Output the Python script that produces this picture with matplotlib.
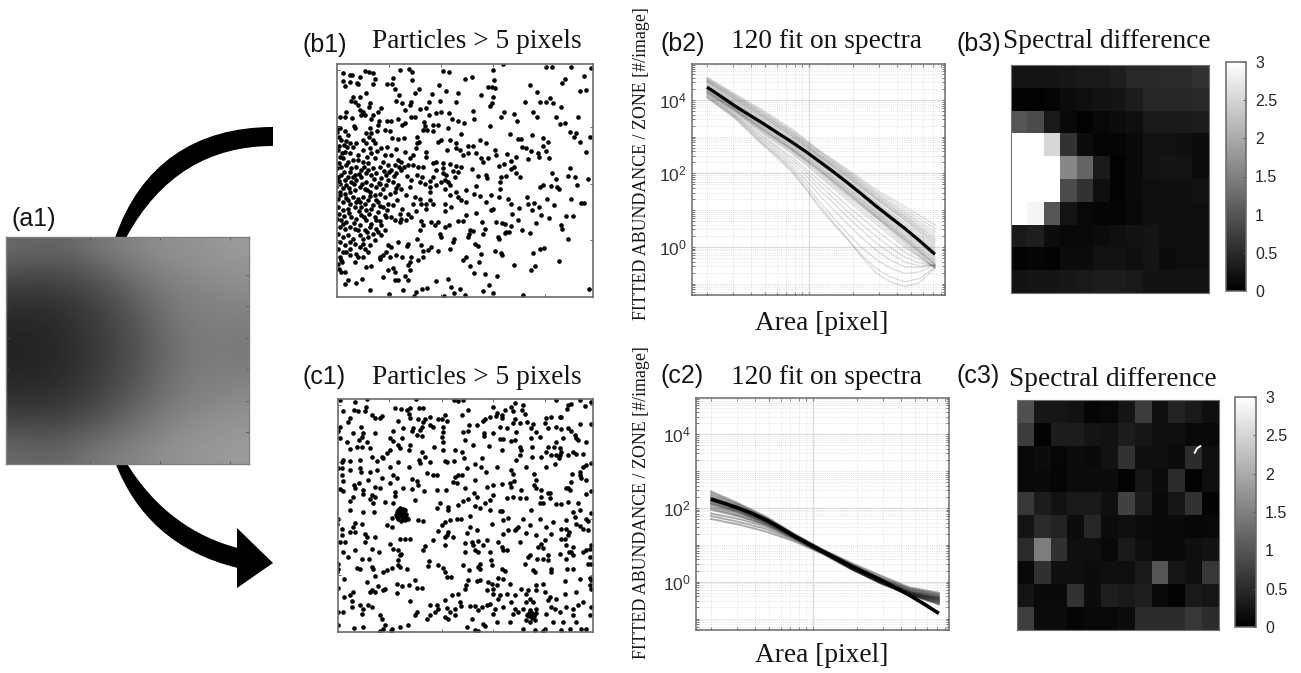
import numpy as np
import matplotlib
matplotlib.use("Agg")
import matplotlib.pyplot as plt
from matplotlib.path import Path
from matplotlib.patches import PathPatch, Polygon
from matplotlib.ticker import LogLocator, NullFormatter

W, H = 1301, 673
SERIF = "Liberation Serif"
SANS = "Liberation Sans"
plt.rcParams["font.family"] = SANS
plt.rcParams["mathtext.fontset"] = "custom"
plt.rcParams["mathtext.rm"] = SANS
plt.rcParams["mathtext.default"] = "regular"

# (a1) grey levels of the background field
a1_field = [
    [105, 100, 105, 120, 130, 140, 145, 150, 155],
    [75, 72, 78, 90, 110, 125, 135, 140, 145],
    [50, 50, 58, 70, 88, 110, 125, 130, 135],
    [38, 40, 48, 62, 78, 100, 120, 125, 125],
    [33, 37, 46, 60, 75, 95, 115, 122, 120],
    [38, 40, 48, 62, 78, 100, 118, 125, 128],
    [50, 50, 58, 72, 90, 108, 125, 132, 138],
    [75, 72, 80, 92, 110, 125, 138, 145, 150],
    [105, 100, 108, 122, 130, 140, 148, 152, 155],
]

# (b1) particle positions
b1_points = [
    (40,40),(62,45),(68,45),(40,63),(45,78),(62,65),(82,68),(90,50),(105,32),(118,37),(130,40),(135,57),(130,72),(85,72),
    (172,73),(186,72),(190,55),(212,30),(238,28),(248,35),(248,60),(195,88),(207,105),(268,88),(255,100),(327,75),(350,92),(341,32),(358,35),(405,58),(427,50),(491,29),(493,60),(475,80),(487,80),(497,85),(453,104),(489,112),(386,100),(307,102),
    (520,12),(650,22),(668,20),(725,20),(783,24),(763,48),(705,57),(698,70),(600,76),(621,95),(751,94),(769,90),(660,115),(630,127),(648,127),(670,130),(586,126),(694,140),(610,155),(622,170),(678,170),(745,170),(690,192),(705,190),(720,215),(740,218),(733,230),(752,245),(782,232),(768,276),
    (488,130),(482,138),(430,152),(434,176),(523,156),(513,172),(554,162),(562,184),(480,198),(541,221),(606,226),(565,236),(575,236),(640,233),(655,245),(640,258),(650,272),(578,262),(588,265),(605,272),(625,280),(628,292),(658,295),(595,297),(533,282),(497,270),(500,285),(560,292),(545,302),(522,312),(508,318),(552,322),(545,328),(560,340),(570,352),(530,348),(515,352),(512,365),(510,385),
    (668,338),(720,325),(714,348),(735,352),(680,358),(775,356),(743,373),(640,375),(632,380),(664,377),(683,380),(688,386),(652,415),(724,415),(755,428),(762,428),(674,435),(593,410),(596,430),(614,428),(628,440),(608,450),(568,444),(633,465),(658,474),(710,466),(729,466),(693,495),(698,505),(716,535),(642,563),(630,567),(611,577),(688,601),(616,617),(604,629),(553,615),(577,510),(600,518),(618,487),(566,478),(548,462),(536,415),(543,430),(508,410),(484,404),
    (70,110),(65,122),(75,125),(92,110),(108,100),(122,128),(118,140),(85,135),(90,150),(100,155),(105,165),(95,165),(50,155),(45,170),(30,172),(68,175),(155,143),(145,155),(130,165),(125,178),(148,182),(145,195),(172,182),(185,183),(205,177),(225,190),(218,195),(245,170),(255,170),(200,123),(218,128),(243,125),(240,135),(225,150),(272,147),(297,125),(290,145),(298,165),(320,160),(335,157),(357,160),(368,178),(384,184),(402,188),(330,122),(378,125),(283,185),(285,197),(310,195),(325,195),(355,203),(280,210),(293,210),(310,212),(395,223),
    (25,203),(30,205),(22,215),(45,212),(72,198),(75,205),(110,220),(125,220),(118,232),(130,240),(135,250),(142,212),(165,210),(180,212),(188,235),(205,237),(222,235),(262,232),(268,245),(262,250),(258,265),(250,285),(290,275),(325,245),(335,240),(362,240),(378,250),(352,270),(380,265),(390,270),(400,285),(415,258),(430,257),(452,240),(470,250),(415,280),(440,280),(455,295),(460,307),(475,295),(320,305),(340,310),(360,313),(380,318),(395,322),(290,292),(428,327),(445,348),(470,345),(473,355),
    (35,240),(50,242),(60,250),(42,255),(25,270),(45,275),(60,280),(85,285),(100,270),(122,265),(125,280),(135,295),(155,265),(165,285),(185,285),(205,300),(215,305),(195,315),(175,315),(160,305),(150,320),(130,325),(115,310),(100,305),(85,300),(70,300),(55,305),(40,295),(30,290),(22,325),(35,320),(50,315),(65,325),(80,320),(95,330),(110,340),(125,345),(140,340),(155,355),(170,345),(185,330),(200,340),(215,330),(235,315),(250,315),(265,320),(280,320),(310,310),(320,330),(340,340),(350,345),(345,360),(355,365),(375,350),(385,335),
    (25,350),(35,345),(45,360),(30,370),(20,380),(50,375),(65,365),(80,360),(75,345),(60,335),(95,350),(110,365),(125,375),(140,380),(160,385),(175,360),(190,365),(205,375),(215,385),(240,380),(245,360),(270,365),(285,370),(300,380),(320,375),(335,365),(345,385),(360,375),(30,395),(45,400),(60,395),(75,390),(90,380),(105,385),(120,395),(135,405),(150,400),(165,410),(180,400),(195,395),(230,405),(255,410),(270,415),(300,395),(300,420),(290,430),(310,430),(345,432),(360,405),(380,395),(395,420),(410,425),(410,390),(440,378),
    (25,415),(40,425),(55,420),(70,410),(85,415),(100,410),(115,420),(130,435),(145,425),(160,440),(175,430),(190,435),(25,440),(40,450),(55,445),(75,440),(95,440),(110,450),(125,445),(145,455),(165,465),(185,470),(210,460),(235,460),(260,452),(290,445),(345,452),(365,440),(385,410),(432,400),(450,408),(470,425),(485,450),(490,445),
    (22,477),(35,480),(50,485),(65,470),(80,475),(95,465),(110,480),(125,490),(140,480),(155,495),(170,470),(215,475),(210,485),(230,478),(275,482),(270,510),(280,495),(305,485),(315,495),(325,485),(345,500),(358,495),(385,483),(400,482),(410,463),(438,458),(458,485),(500,485),(518,488),(525,490),(545,498),(530,515),(537,515),(525,518),(505,530),(508,537),(465,507),(460,522),(430,512),(420,510),(418,522),(415,530),
    (30,500),(45,505),(60,500),(75,505),(90,495),(105,510),(120,500),(130,520),(145,515),(155,525),(25,520),(40,530),(55,525),(70,535),(90,525),(100,535),(115,530),(135,540),(30,545),(45,555),(60,565),(75,550),(90,560),(105,565),(115,575),(25,565),(50,575),(80,580),(85,590),(75,605),(30,590),(35,600),(25,610),(175,555),(185,560),(170,575),(160,585),(150,595),(205,545),(235,550),(232,558),(218,590),(200,585),(180,590),(245,590),(240,605),(235,615),(265,600),(280,590),(280,572),(295,568),(305,560),(325,572),(362,567),(372,537),(370,545),(330,522),(335,530),(262,537),(275,555),
    (400,600),(410,590),(420,618),(433,637),(455,580),(437,550),(445,558),(448,605),(465,640),(495,573),(515,578),(518,585),(502,646),(477,675),(460,693),(490,697),(580,703),(777,687),
    (35,635),(45,635),(55,658),(45,670),(80,668),(97,655),(108,620),(125,617),(150,590),(175,630),(190,622),(195,635),(240,630),(225,647),(195,660),(205,660),(235,660),(160,650),(320,662),(355,655),(365,680),(372,697),(390,685),(407,703),(278,685),(292,682),(260,695),(253,708),(220,690),(178,700),(122,690),(342,707),
    (28,310),(42,335),(55,352),(70,352),(88,342),(102,322),(116,330),(132,358),(147,368),(162,332),(177,337),(192,347),(207,322),(222,322),(232,347),(28,362),(40,384),(58,384),(72,372),(98,372),(112,388),(150,372),(168,375),(198,382),(262,345),(278,350),(300,362),(310,352),(340,325),(370,332),
    (30,405),(48,412),(62,432),(78,425),(92,425),(106,430),(120,408),(138,420),(152,438),(172,448),(202,420),(218,445),(250,430),(275,432),(28,462),(44,468),(58,458),(88,452),(104,470),(118,462),(135,470),(150,482),(195,480),(245,470),(28,258),(36,280),(52,262),(70,262),(78,248),(108,250),(112,290),(142,272),(172,262),(200,268),(225,275),(240,295),(28,232),(55,225),(100,240),(120,205),
    (40,490),(72,488),(85,510),(112,515),(140,505),(165,510),(60,545),(100,550),(122,555),(40,575),(62,585),(100,590),(28,625),(38,605),
]

# (c1) particle positions
c1_points = [
    (30,15),(75,22),(110,12),(257,12),(372,15),(385,18),(400,14),(678,14),(750,14),(785,20),(490,35),(555,24),(545,35),(580,30),(525,45),(715,30),(725,28),(765,32),(712,42),(38,48),(72,45),(85,48),(105,48),(125,60),(108,35),(195,40),(213,42),(232,45),(237,58),(268,40),(280,40),(415,45),(500,55),(515,60),(550,48),(578,45),
    (155,62),(150,70),(135,70),(60,70),(55,82),(240,70),(265,73),(285,72),(300,65),(280,80),(325,72),(345,60),(335,72),(352,78),(395,60),(205,77),(465,72),(460,78),(480,65),(498,62),(515,68),(555,72),(585,58),(570,85),(592,80),(610,88),(650,70),(665,65),(690,67),(695,65),(750,88),(785,87),(645,85),(655,100),(678,97),(695,102),(715,100),(725,108),(735,120),(620,110),(632,125),(605,128),(605,98),(550,85),(530,100),(510,95),(440,90),(418,90),(415,108),(400,112),(462,115),(490,115),(310,97),(340,97),(340,110),(250,100),(245,108),(275,95),(270,105),(30,95),(25,108),(20,108),(92,97),(98,115),(68,113),(135,115),(188,107),
    (95,125),(88,135),(80,155),(95,155),(110,140),(180,130),(190,138),(215,128),(205,150),(240,150),(260,120),(275,123),(337,125),(340,140),(312,155),(405,135),(462,122),(510,132),(518,132),(545,137),(555,136),(477,152),(516,165),(570,155),(573,165),(607,155),(740,130),(745,135),(680,140),(672,155),(690,158),(695,170),(655,155),(650,170),(665,180),(680,180),(690,180),(715,180),(730,172),(740,178),(760,178),(60,163),(125,185),(155,185),(170,175),(180,165),(160,190),(238,165),(210,160),(275,170),(285,187),(340,165),(375,165),(395,172),(403,190),
    (40,195),(35,200),(60,197),(90,195),(90,220),(93,230),(140,198),(25,218),(35,218),(35,240),(142,225),(180,215),(205,200),(238,217),(267,195),(270,205),(345,198),(350,200),(372,198),(410,218),(435,208),(455,188),(452,215),(467,232),(572,180),(560,195),(545,225),(550,238),(607,185),(635,187),(677,208),(688,190),(768,210),(783,205),(760,215),(752,230),(750,240),(728,237),(612,237),(620,255),
    (40,258),(30,283),(40,288),(72,270),(75,278),(88,265),(100,285),(115,255),(135,275),(150,278),(180,265),(188,240),(200,250),(245,253),(262,258),(265,270),(245,283),(283,288),(320,240),(310,240),(292,234),(195,290),(218,280),(320,285),(347,285),(370,260),(380,265),(385,240),(395,240),(375,245),(435,255),(405,280),(432,295),(472,275),(490,270),(515,268),(545,275),(540,265),(553,258),(575,285),(635,285),(660,295),(715,280),(720,285),(710,280),(725,260),(755,250),(770,255),(785,288),(770,297),(613,270),(618,280),
    (70,305),(60,318),(100,298),(125,300),(135,305),(120,312),(130,325),(165,320),(195,303),(190,325),(255,315),(330,325),(320,338),(355,335),(355,345),(400,318),(415,313),(385,330),(440,305),(435,332),(450,340),(465,325),(480,315),(490,300),(510,348),(515,348),(530,310),(550,305),(572,310),(590,310),(605,345),(635,305),(640,325),(630,325),(655,295),(660,310),(680,328),(695,328),(715,320),(745,325),(750,345),(730,352),(785,355),(60,345),(100,350),(133,352),
    (25,370),(20,385),(75,382),(95,385),(70,395),(185,367),(170,390),(185,395),(265,373),(280,378),(335,390),(345,380),(360,375),(380,372),(392,372),(420,362),(412,412),(440,405),(487,385),(520,375),(535,367),(580,370),(565,395),(555,405),(560,400),(535,405),(520,415),(590,412),(630,372),(670,380),(710,375),(770,370),(775,378),(750,392),(735,365),(740,385),(760,400),(775,405),(695,400),(710,400),(718,410),(665,415),(620,418),(35,402),(60,410),(75,410),(35,418),(105,415),(110,425),(135,425),(325,408),(355,410),(350,420),(370,425),
    (30,440),(45,440),(75,465),(105,440),(125,462),(147,470),(180,447),(210,430),(225,430),(240,430),(308,435),(285,452),(278,465),(345,425),(345,450),(405,442),(425,440),(430,450),(445,437),(470,433),(505,440),(515,455),(530,463),(518,465),(635,445),(625,455),(640,458),(645,433),(695,430),(705,430),(715,420),(710,450),(730,455),(725,470),(760,470),(770,465),(780,460),(785,450),(405,470),(435,465),(445,470),(190,462),(205,465),(213,475),(210,480),
    (55,485),(95,490),(118,492),(125,515),(130,522),(80,518),(25,505),(25,520),(90,520),(20,530),(135,542),(160,530),(170,525),(185,517),(205,510),(210,515),(205,495),(297,497),(295,513),(325,510),(338,518),(345,530),(350,545),(362,545),(400,508),(417,525),(445,515),(450,505),(450,522),(482,493),(487,510),(515,522),(525,528),(585,505),(595,485),(600,480),(622,490),(640,490),(655,480),(655,495),(610,525),(615,530),(665,520),(665,530),(690,475),(710,490),(718,470),(730,480),(712,520),(730,520),(780,485),(775,505),(785,505),
    (43,552),(25,578),(42,605),(60,600),(70,590),(125,585),(135,590),(145,572),(160,585),(165,582),(200,565),(215,572),(238,568),(255,555),(262,578),(275,578),(200,592),(408,570),(415,553),(405,580),(440,558),(450,555),(475,560),(485,565),(505,548),(520,550),(500,570),(490,580),(470,585),(510,600),(385,597),(365,600),(345,615),(490,595),(540,565),(575,580),(595,585),(620,570),(640,565),(620,585),(645,590),(705,558),(750,552),(780,548),(785,555),(780,570),(785,580),(740,590),(705,595),(680,610),(660,605),(655,615),(600,610),(590,595),(555,600),(530,595),(505,610),
    (65,618),(65,635),(90,630),(100,640),(115,630),(125,635),(95,655),(25,650),(40,650),(150,658),(155,672),(25,690),(72,697),(100,695),(165,690),(160,700),(150,708),(185,700),(182,708),(210,695),(235,690),(240,618),(262,650),(255,658),(300,628),(320,628),(325,640),(315,650),(290,672),(300,660),(350,638),(345,665),(360,650),(375,640),(375,660),(355,670),(390,620),(392,632),(420,632),(435,632),(425,670),(455,635),(470,630),(480,625),(495,640),(445,645),(460,685),(465,692),(435,705),(445,708),(410,695),(490,655),(520,635),(545,620),(555,640),(550,655),(565,650),(580,640),(590,620),(610,620),(620,640),(595,655),(600,650),(605,660),(610,655),(590,675),(600,680),(615,675),(580,700),(615,705),(645,700),(640,708),(675,640),(665,635),(650,655),(690,650),(710,635),(730,640),(745,630),(730,660),(740,680),(780,660),(700,680),(695,705),(720,700),(755,700),(770,702),(785,635),
    (200,350),(205,345),(210,340),(215,348),(220,355),(225,345),(210,360),(215,365),(205,370),(220,372),(232,368),(198,360),(212,352),(222,362),(235,372),(605,650),(598,662),(612,662),
    (205,355),(218,342),(228,356),(202,365),(214,376),(226,374),(600,645),(608,668),(592,660),(618,652),
    (120,590),(240,40),(300,90),(560,110),(700,130),(770,140),(30,130),(50,140),(120,160),(220,100),(300,200),(430,150),(500,215),(590,215),(650,215),(120,230),(155,250),(60,225),(480,345),(600,390),(650,395),(420,395),(460,450),(480,470),(570,440),(40,470),(110,560),(230,520),(500,680),(540,680),(670,680),(760,620),
]

# fit curves: log10 of abundance at these areas
area = [2.0, 3.1, 4.84, 7.57, 11.8, 18.5, 28.9, 45.2, 72.5]
area_fine = [2.0, 2.49, 3.1, 3.87, 4.84, 6.05, 7.57, 9.45, 11.8, 14.8, 18.5, 23.1, 28.9, 36.1, 45.2, 57.2, 72.5]
b2_mean = [4.35, 4.10, 3.84, 3.60, 3.36, 3.11, 2.86, 2.60, 2.32, 2.03, 1.73, 1.42, 1.10, 0.80, 0.50, 0.16, -0.20]
b2_fits = [
    [4.62, 4.17, 3.72, 3.22, 2.62, 2.10, 1.55, 1.10, 0.60],
    [4.60, 4.14, 3.68, 3.18, 2.60, 2.06, 1.50, 1.02, 0.50],
    [4.58, 4.12, 3.65, 3.15, 2.58, 2.03, 1.45, 0.95, 0.40],
    [4.56, 4.10, 3.62, 3.12, 2.55, 2.00, 1.42, 0.90, 0.32],
    [4.55, 4.08, 3.60, 3.10, 2.52, 1.97, 1.38, 0.85, 0.25],
    [4.53, 4.06, 3.58, 3.08, 2.50, 1.95, 1.35, 0.82, 0.20],
    [4.52, 4.04, 3.55, 3.05, 2.48, 1.92, 1.32, 0.78, 0.15],
    [4.51, 4.02, 3.53, 3.03, 2.46, 1.90, 1.30, 0.75, 0.10],
    [4.50, 4.00, 3.52, 3.02, 2.45, 1.88, 1.28, 0.72, 0.05],
    [4.47, 3.97, 3.48, 2.98, 2.42, 1.84, 1.22, 0.65, 0.00],
    [4.45, 3.95, 3.45, 2.95, 2.40, 1.81, 1.19, 0.60, -0.05],
    [4.42, 3.92, 3.42, 2.92, 2.37, 1.78, 1.16, 0.55, -0.10],
    [4.40, 3.90, 3.40, 2.90, 2.35, 1.76, 1.12, 0.50, -0.15],
    [4.36, 3.86, 3.36, 2.86, 2.30, 1.70, 1.07, 0.45, -0.22],
    [4.33, 3.83, 3.33, 2.83, 2.27, 1.66, 1.03, 0.41, -0.26],
    [4.30, 3.80, 3.30, 2.80, 2.24, 1.62, 1.00, 0.38, -0.30],
    [4.29, 3.78, 3.28, 2.77, 2.20, 1.58, 0.96, 0.33, -0.35],
    [4.28, 3.77, 3.26, 2.75, 2.18, 1.56, 0.94, 0.30, -0.38],
    [4.26, 3.76, 3.24, 2.72, 2.15, 1.53, 0.91, 0.27, -0.42],
    [4.25, 3.75, 3.22, 2.70, 2.12, 1.50, 0.88, 0.24, -0.45],
    [4.24, 3.74, 3.20, 2.68, 2.10, 1.47, 0.85, 0.21, -0.47],
    [4.23, 3.73, 3.19, 2.67, 2.09, 1.46, 0.83, 0.20, -0.49],
    [4.22, 3.72, 3.18, 2.66, 2.08, 1.45, 0.82, 0.18, -0.50],
    [4.21, 3.71, 3.16, 2.64, 2.05, 1.41, 0.80, 0.14, -0.54],
    [4.20, 3.70, 3.14, 2.63, 2.02, 1.38, 0.78, 0.10, -0.58],
    [4.19, 3.68, 3.11, 2.59, 1.97, 1.32, 0.70, 0.04, -0.57],
    [4.18, 3.66, 3.08, 2.55, 1.92, 1.25, 0.62, -0.02, -0.55],
    [4.16, 3.62, 3.02, 2.45, 1.80, 1.10, 0.45, -0.15, -0.55],
    [4.14, 3.87, 3.60, 3.29, 2.98, 2.69, 2.38, 2.05, 1.68, 1.32, 0.95, 0.60, 0.28, -0.02, -0.28, -0.44, -0.52],
    [4.12, 3.85, 3.58, 3.25, 2.92, 2.62, 2.30, 1.95, 1.55, 1.18, 0.80, 0.44, 0.10, -0.18, -0.42, -0.52, -0.50],
    [4.10, 3.83, 3.56, 3.23, 2.88, 2.56, 2.22, 1.83, 1.40, 1.00, 0.60, 0.24, -0.10, -0.36, -0.55, -0.56, -0.48],
    [4.08, 3.81, 3.54, 3.19, 2.82, 2.50, 2.15, 1.72, 1.22, 0.78, 0.35, -0.03, -0.35, -0.58, -0.72, -0.68, -0.50],
    [4.06, 3.78, 3.50, 3.13, 2.76, 2.42, 2.05, 1.58, 1.05, 0.60, 0.18, -0.24, -0.60, -0.82, -0.95, -0.86, -0.55],
    [4.08, 3.80, 3.52, 3.16, 2.80, 2.47, 2.10, 1.62, 1.12, 0.65, 0.20, -0.30, -0.72, -0.96, -1.08, -0.97, -0.58],
]
c2_mean = [2.24, 2.12, 1.99, 1.84, 1.66, 1.45, 1.22, 1.01, 0.81, 0.61, 0.41, 0.23, 0.05, -0.15, -0.36, -0.60, -0.86]
c2_fits = [
    [2.45, 2.12, 1.75, 1.28, 0.86, 0.50, 0.17, -0.15, -0.30],
    [2.40, 2.09, 1.72, 1.26, 0.85, 0.47, 0.13, -0.18, -0.33],
    [2.35, 2.06, 1.70, 1.25, 0.84, 0.45, 0.10, -0.20, -0.36],
    [2.30, 2.03, 1.68, 1.24, 0.83, 0.44, 0.08, -0.22, -0.38],
    [2.27, 2.01, 1.67, 1.23, 0.82, 0.43, 0.06, -0.25, -0.40],
    [2.25, 2.00, 1.66, 1.22, 0.81, 0.42, 0.05, -0.26, -0.42],
    [2.22, 1.98, 1.65, 1.22, 0.81, 0.41, 0.04, -0.27, -0.44],
    [2.20, 1.96, 1.64, 1.21, 0.80, 0.40, 0.03, -0.28, -0.46],
    [2.18, 1.94, 1.62, 1.20, 0.80, 0.39, 0.02, -0.29, -0.48],
    [2.15, 1.92, 1.61, 1.20, 0.79, 0.38, 0.01, -0.30, -0.50],
    [2.12, 1.90, 1.60, 1.19, 0.79, 0.37, 0.00, -0.31, -0.52],
    [2.10, 1.88, 1.58, 1.19, 0.78, 0.36, -0.01, -0.32, -0.55],
    [2.05, 1.85, 1.56, 1.18, 0.78, 0.36, -0.02, -0.33, -0.58],
    [2.00, 1.80, 1.54, 1.17, 0.77, 0.35, -0.03, -0.34, -0.60],
    [1.95, 1.77, 1.52, 1.16, 0.77, 0.34, -0.04, -0.35, -0.62],
    [1.85, 1.70, 1.48, 1.14, 0.76, 0.33, -0.05, -0.36, -0.55],
    [1.78, 1.62, 1.42, 1.12, 0.75, 0.33, -0.03, -0.34, -0.50],
    [1.70, 1.55, 1.35, 1.08, 0.74, 0.32, -0.02, -0.33, -0.45],
]

# (b3) and (c3) spectral differences, as grey levels 0-255
b3_levels = [
    [20, 20, 20, 22, 25, 25, 30, 40, 40, 42, 42, 50],
    [2, 2, 5, 12, 15, 18, 20, 28, 38, 38, 38, 40],
    [85, 75, 25, 8, 2, 8, 12, 15, 25, 25, 25, 28],
    [255, 255, 215, 50, 12, 5, 5, 10, 18, 18, 15, 12],
    [255, 255, 255, 135, 100, 25, 2, 10, 18, 20, 20, 12],
    [255, 255, 255, 75, 50, 15, 3, 10, 15, 15, 15, 18],
    [255, 245, 85, 20, 8, 5, 5, 8, 15, 15, 15, 15],
    [25, 30, 12, 8, 8, 12, 15, 18, 20, 15, 15, 15],
    [3, 5, 3, 12, 12, 18, 18, 15, 20, 12, 15, 15],
    [18, 20, 20, 22, 25, 28, 28, 25, 18, 18, 18, 18],
]
c3_levels = [
    [80, 22, 22, 18, 5, 8, 20, 60, 15, 35, 25, 15],
    [60, 3, 28, 28, 20, 18, 28, 22, 15, 15, 8, 8],
    [8, 12, 6, 12, 10, 18, 50, 15, 15, 12, 45, 15],
    [8, 10, 5, 12, 12, 12, 2, 22, 12, 42, 2, 15],
    [55, 28, 18, 25, 25, 15, 65, 28, 10, 22, 50, 3],
    [20, 42, 35, 12, 38, 12, 15, 12, 10, 10, 6, 8],
    [42, 125, 48, 15, 15, 8, 25, 15, 8, 8, 15, 18],
    [8, 48, 15, 15, 12, 15, 15, 25, 85, 22, 15, 55],
    [20, 10, 10, 50, 12, 30, 25, 30, 10, 2, 25, 22],
    [62, 12, 12, 5, 8, 8, 12, 45, 45, 45, 55, 45],
]
c3_glitch_col = [10.05, 10.2, 10.4]
c3_glitch_row = [1.80, 1.60, 1.50]
cbar_ticks = [0, 0.5, 1, 1.5, 2, 2.5, 3]
cbar_labels = ["0", "0.5", "1", "1.5", "2", "2.5", "3"]


def px_axes(x0, y0, x1, y1):
    return fig.add_axes([x0 / W, 1 - y1 / H, (x1 - x0) / W, (y1 - y0) / H])


def px_text(x, y, s, size, family, **kw):
    kw.setdefault("va", "center")
    fig.text(x / W, 1 - y / H, s, fontsize=size, family=family, color="0.08", **kw)


def frame(ax, color="0.42", lw=1.2):
    for sp in ax.spines.values():
        sp.set_color(color)
        sp.set_linewidth(lw)


def scatter_panel(box, points):
    ax = px_axes(*box)
    pts = np.array(points)
    ax.scatter(pts[:, 0], pts[:, 1], s=11, c="black", linewidths=0, clip_on=True)
    ax.set_xlim(22, 790)
    ax.set_ylim(710, 12)
    ax.set_xticks([178, 335, 490, 645])
    ax.set_yticks([30, 200, 370, 540])
    ax.tick_params(direction="in", length=2, width=0.7, color="0.4", top=True, right=True,
                   labelbottom=False, labelleft=False)
    frame(ax)


def fit_panel(box, fits, mean, fit_color, fit_alpha, fit_lw, mean_lw):
    ax = px_axes(*box)
    for f in fits:
        xs = area_fine if len(f) == len(area_fine) else area
        ax.plot(xs, 10.0 ** np.array(f), color=fit_color, lw=fit_lw, alpha=fit_alpha)
    ax.plot(area_fine, 10.0 ** np.array(mean), color="black", lw=mean_lw, solid_capstyle="butt")
    ax.set_xscale("log")
    ax.set_yscale("log")
    ax.set_xlim(1.58, 85)
    ax.set_ylim(10 ** -1.31, 10 ** 4.98)
    ax.set_xticks([10])
    ax.set_yticks([1, 1e2, 1e4])
    ax.set_yticklabels([r"$10^{0}$", r"$10^{2}$", r"$10^{4}$"], fontsize=12.5, color="0.2")
    ax.xaxis.set_minor_locator(LogLocator(base=10, subs=np.arange(1, 10), numticks=12))
    ax.yaxis.set_minor_locator(LogLocator(base=10, subs=np.arange(1, 10), numticks=12))
    ax.xaxis.set_minor_formatter(NullFormatter())
    ax.yaxis.set_minor_formatter(NullFormatter())
    ax.set_xticklabels([])
    ax.grid(True, which="major", color="0.86", lw=0.9, zorder=0)
    ax.grid(True, which="minor", color="0.82", lw=0.5, ls=":", zorder=0)
    ax.set_axisbelow(True)
    ax.tick_params(which="both", direction="in", length=2, width=0.6, color="0.4", top=True, right=True)
    ax.tick_params(axis="y", which="major", pad=4)
    frame(ax, lw=1.1)


def heat_panel(box, levels, cbar_box):
    ax = px_axes(*box)
    im = ax.imshow(np.array(levels) * 3 / 255, cmap="gray", vmin=0, vmax=3,
                   interpolation="nearest", aspect="auto")
    ax.set_xticks([])
    ax.set_yticks([])
    frame(ax, color="0.45", lw=0.8)
    cax = px_axes(*cbar_box)
    cb = fig.colorbar(im, cax=cax)
    cb.set_ticks(cbar_ticks)
    cb.set_ticklabels(cbar_labels)
    cax.tick_params(direction="in", length=2.5, width=0.7, color="0.35", labelsize=11.5,
                    labelcolor="0.15", pad=6.5)
    cb.outline.set_edgecolor("0.4")
    cb.outline.set_linewidth(1.1)
    return ax


fig = plt.figure(figsize=(W / 100, H / 100), dpi=100, facecolor="white")

# arrows, on a full-figure layer in pixel units
over = fig.add_axes([0, 0, 1, 1], zorder=-1)
over.set_xlim(0, W)
over.set_ylim(H, 0)
over.axis("off")
top_arrow = Path(
    [(115, 238), (140, 165), (195, 127), (273, 127), (273, 146), (210, 146), (160, 175), (126, 238), (115, 238)],
    [Path.MOVETO, Path.CURVE4, Path.CURVE4, Path.CURVE4, Path.LINETO, Path.CURVE4, Path.CURVE4, Path.CURVE4, Path.CLOSEPOLY],
)
over.add_patch(PathPatch(top_arrow, fc="black", ec="none"))
bottom_arrow = Path(
    [(115, 462), (135, 515), (175, 553), (238, 568), (238, 548), (195, 537), (155, 510), (126, 462), (115, 462)],
    [Path.MOVETO, Path.CURVE4, Path.CURVE4, Path.CURVE4, Path.LINETO, Path.CURVE4, Path.CURVE4, Path.CURVE4, Path.CLOSEPOLY],
)
over.add_patch(PathPatch(bottom_arrow, fc="black", ec="none"))
over.add_patch(Polygon([(237, 528), (273, 563), (237, 588)], closed=True, fc="black", ec="none"))

# (a1)
ax_a = px_axes(6, 237, 249, 464)
ax_a.imshow(a1_field, cmap="gray", vmin=0, vmax=255, interpolation="bicubic", aspect="auto")
ax_a.set_xticks([2.6, 5.2, 7.8])
ax_a.set_yticks([1, 2.25, 3.5, 4.75, 6, 7.25])
ax_a.tick_params(direction="in", length=2, width=0.6, color="0.3", top=True, right=True,
                 labelbottom=False, labelleft=False)
frame(ax_a, color="0.5", lw=1.0)

scatter_panel((337, 64, 593, 297), b1_points)
scatter_panel((337.5, 399, 593, 632), c1_points)

fit_panel((692, 64, 945, 295), b2_fits, b2_mean, "0.3", 0.2, 0.9, 2.3)
fit_panel((696, 398, 949, 630), c2_fits, c2_mean, "0.05", 0.35, 1.3, 2.6)

heat_panel((1011, 65, 1209, 293), b3_levels, (1226, 62, 1246, 291))
ax_c3 = heat_panel((1017, 400, 1219, 630), c3_levels, (1235, 397, 1256, 627))
ax_c3.plot(c3_glitch_col, c3_glitch_row, color="white", lw=1.4, solid_capstyle="round")
ax_c3.set_xlim(-0.5, 11.5)
ax_c3.set_ylim(9.5, -0.5)

# panel letters
for x, y, s in [(12, 219, "(a1)"), (303, 45, "(b1)"), (303, 377, "(c1)"), (660, 44, "(b2)"),
                (660, 376, "(c2)"), (957, 44, "(b3)"), (957, 376, "(c3)")]:
    px_text(x, y, s, 18, SANS)

# titles
for x, y, s in [(372, 42, "Particles > 5 pixels"), (372, 377, "Particles > 5 pixels"),
                (731, 42, "120 fit on spectra"), (731, 377, "120 fit on spectra"),
                (1003, 42, "Spectral difference"), (1009, 379, "Spectral difference")]:
    px_text(x, y, s, 19.7, SERIF)

for y in (323, 655):
    px_text(822, y, "Area [pixel]", 19.7, SERIF, ha="center")
for y in (164, 503):
    px_text(641, y, "FITTED ABUNDANCE / ZONE [#/image]", 12.9, SERIF, rotation=90, ha="center")

fig.savefig("out.png", dpi=100, facecolor="white")
